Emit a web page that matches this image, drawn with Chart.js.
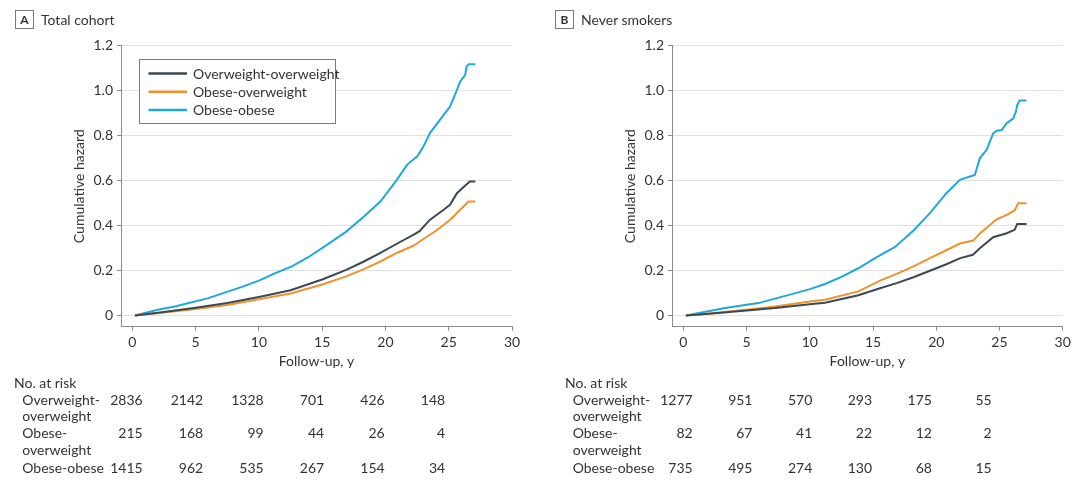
<!DOCTYPE html>
<html><head><meta charset="utf-8">
<script src="https://cdn.jsdelivr.net/npm/chart.js@4.4.1/dist/chart.umd.min.js"></script>
<style>
html,body{margin:0;padding:0;background:#fff;}
body{width:1080px;height:483px;position:relative;overflow:hidden;font-family:Lato,sans-serif;color:#333;}
.panel{position:absolute;top:0;width:540px;height:483px;}
.panel canvas{position:absolute;left:0;top:0;}
.t{position:absolute;font-size:14px;line-height:17px;white-space:nowrap;}
.box{position:absolute;width:17px;height:17px;border:1px solid #777;font-weight:bold;font-size:12px;text-align:center;line-height:17px;}
</style></head>
<body>
<div class="panel" id="pA"><canvas id="cA" width="540" height="483"></canvas></div>
<div class="panel" id="pB" style="left:540px"><canvas id="cB" width="540" height="483"></canvas></div>
<script>
// ---- data ----
const seriesNames = ['Overweight-overweight', 'Obese-overweight', 'Obese-obese'];
const xTicks = [0, 5, 10, 15, 20, 25, 30];
const yTicks = [0, 0.2, 0.4, 0.6, 0.8, 1.0, 1.2];

// Panel A: Total cohort
const tA_owow = [0.2, 2.5, 5, 7.5, 10, 12.5, 15, 16.9, 18.3, 19.6, 20.9, 22.2, 22.7, 23.5, 24.6, 25.1, 25.65, 26.2, 26.66, 27.1];
const hA_owow = [0, 0.015, 0.034, 0.055, 0.082, 0.112, 0.160, 0.203, 0.24, 0.278, 0.319, 0.359, 0.375, 0.425, 0.47, 0.492, 0.544, 0.573, 0.596, 0.596];
const tA_obow = [0.2, 2.5, 5, 7.5, 10, 12.5, 15, 16.9, 18.3, 19.6, 20.9, 22.2, 23.0, 24.1, 25.1, 25.9, 26.57, 27.1];
const hA_obow = [0, 0.013, 0.029, 0.047, 0.072, 0.098, 0.138, 0.174, 0.206, 0.24, 0.278, 0.31, 0.34, 0.381, 0.425, 0.47, 0.507, 0.507];
const tA_obob = [0.2, 2, 3.35, 6, 8.6, 10, 11.3, 12.6, 13.9, 15.2, 16.9, 18.3, 19.6, 20.9, 21.7, 22.5, 23, 23.5, 24.3, 25.1, 25.65, 25.9, 26.3, 26.4, 26.57, 27.1];
const hA_obob = [0, 0.025, 0.040, 0.077, 0.126, 0.155, 0.188, 0.218, 0.259, 0.307, 0.373, 0.44, 0.507, 0.603, 0.67, 0.707, 0.751, 0.81, 0.87, 0.929, 1.003, 1.04, 1.07, 1.107, 1.117, 1.117];

// Panel B: Never smokers
const tB_owow = [0.2, 2.5, 5, 7.25, 10, 11.2, 13.84, 15.55, 16.87, 18.2, 19.5, 20.8, 21.9, 22.9, 23.45, 24.5, 25.57, 26.2, 26.4, 27.14];
const hB_owow = [0, 0.01, 0.022, 0.033, 0.05, 0.057, 0.09, 0.121, 0.144, 0.17, 0.199, 0.228, 0.255, 0.27, 0.299, 0.348, 0.366, 0.381, 0.407, 0.407];
const tB_obow = [0.2, 2.5, 5, 7.25, 10, 11.2, 13.84, 15.55, 16.87, 18.2, 19.5, 20.8, 21.87, 22.93, 23.45, 24.5, 24.78, 25.57, 26.2, 26.35, 26.47, 27.14];
const hB_obow = [0, 0.011, 0.025, 0.04, 0.062, 0.07, 0.107, 0.155, 0.185, 0.218, 0.255, 0.29, 0.32, 0.333, 0.365, 0.415, 0.428, 0.447, 0.467, 0.484, 0.499, 0.499];
const tB_obob = [0.2, 3.3, 5.93, 8.57, 10, 11.2, 12.5, 13.84, 15.16, 16.74, 18.2, 19.5, 20.8, 21.87, 22.66, 23.05, 23.45, 23.98, 24.5, 24.78, 25.17, 25.57, 26.1, 26.3, 26.4, 26.6, 27.14];
const hB_obob = [0, 0.033, 0.055, 0.095, 0.117, 0.14, 0.172, 0.21, 0.255, 0.305, 0.378, 0.455, 0.544, 0.603, 0.618, 0.625, 0.70, 0.736, 0.81, 0.822, 0.825, 0.855, 0.877, 0.907, 0.936, 0.956, 0.956];

// Number at risk
const riskLabels = [['Overweight-', 'overweight'], ['Obese-', 'overweight'], ['Obese-obese']];
const riskA_owow = [2836, 2142, 1328, 701, 426, 148];
const riskA_obow = [215, 168, 99, 44, 26, 4];
const riskA_obob = [1415, 962, 535, 267, 154, 34];
const riskB_owow = [1277, 951, 570, 293, 175, 55];
const riskB_obow = [82, 67, 41, 22, 12, 2];
const riskB_obob = [735, 495, 274, 130, 68, 15];

// ---- styling ----
const colors = ['#3a4954', '#f0922e', '#1ea9dc'];
const txt = '#333333';
const axisCol = '#8c8c8c';
const gridCol = '#e0e0e0';
const font14 = {family: 'Lato, sans-serif', size: 14};

function pts(t, h) { return t.map((v, i) => ({x: v, y: h[i]})); }

const boxLegend = {
  id: 'boxLegend',
  afterDatasetsDraw(chart, args, opts) {
    if (!opts.show) return;
    const ctx = chart.ctx, a = chart.chartArea;
    const x0 = Math.round(a.left + 18) + 0.5, y0 = Math.round(a.top + 13.6) + 0.5;
    const w = 196, h = 64;
    ctx.save();
    ctx.fillStyle = '#fff';
    ctx.fillRect(x0, y0, w, h);
    ctx.strokeStyle = '#7a7a7a';
    ctx.lineWidth = 1;
    ctx.strokeRect(x0, y0, w, h);
    ctx.font = '14px Lato, sans-serif';
    ctx.textBaseline = 'middle';
    ctx.textAlign = 'left';
    chart.data.datasets.forEach((ds, i) => {
      const y = y0 + 14 + i * 18.2;
      ctx.strokeStyle = ds.borderColor;
      ctx.lineWidth = 2.5;
      ctx.beginPath();
      ctx.moveTo(x0 + 9, y);
      ctx.lineTo(x0 + 47.5, y);
      ctx.stroke();
      ctx.fillStyle = txt;
      ctx.fillText(ds.label, x0 + 53.5, y + 0.5);
    });
    ctx.restore();
  }
};

function makeChart(id, series, padLeft, padRight, showLegend) {
  return new Chart(document.getElementById(id), {
    type: 'line',
    data: {
      datasets: series.map((s, i) => ({
        label: seriesNames[i],
        data: s,
        borderColor: colors[i],
        backgroundColor: colors[i],
        borderWidth: 2,
        pointRadius: 0,
        tension: 0,
        fill: false
      }))
    },
    options: {
      responsive: false,
      animation: false,
      events: [],
      layout: {padding: {left: padLeft, right: padRight, top: 45.7, bottom: 113.6}},
      plugins: {legend: {display: false}, tooltip: {enabled: false}, boxLegend: {show: showLegend}},
      scales: {
        x: {
          type: 'linear', min: -0.9, max: 30,
          afterBuildTicks: s => { s.ticks = xTicks.map(v => ({value: v})); },
          afterFit: s => { s.height = 42.7; },
          ticks: {font: font14, color: txt, padding: 3, maxRotation: 0, autoSkip: false},
          grid: {drawOnChartArea: false, drawTicks: true, tickLength: 4, tickColor: axisCol},
          border: {color: axisCol, width: 1},
          title: {display: true, text: 'Follow-up, y', font: font14, color: txt, padding: 0}
        },
        y: {
          type: 'linear', min: -0.05, max: 1.2,
          afterBuildTicks: s => { s.ticks = yTicks.map(v => ({value: v})); },
          afterFit: s => { s.width = 50.4; },
          ticks: {font: font14, color: txt, padding: 4, callback: v => v === 0 ? '0' : v.toFixed(1)},
          grid: {color: gridCol, lineWidth: 1, drawTicks: true, tickLength: 4, tickColor: axisCol},
          border: {color: axisCol, width: 1},
          title: {display: true, text: 'Cumulative hazard', font: font14, color: txt, padding: 0}
        }
      }
    },
    plugins: [boxLegend]
  });
}

makeChart('cA', [pts(tA_owow, hA_owow), pts(tA_obow, hA_obow), pts(tA_obob, hA_obob)], 70.6, 28, true);
makeChart('cB', [pts(tB_owow, hB_owow), pts(tB_obow, hB_obow), pts(tB_obob, hB_obob)], 81.6, 17.3, false);

// ---- headers and at-risk tables (HTML text) ----
function addText(panel, text, left, cy, cls, extra) {
  const d = document.createElement('div');
  d.className = cls || 't';
  d.textContent = text;
  d.style.left = left + 'px';
  d.style.top = (cy - 8.5) + 'px';
  if (extra) Object.assign(d.style, extra);
  document.getElementById(panel).appendChild(d);
  return d;
}
function header(panel, letter, title) {
  const b = document.createElement('div');
  b.className = 'box'; b.textContent = letter;
  b.style.left = '15px'; b.style.top = '10px';
  document.getElementById(panel).appendChild(b);
  addText(panel, title, 41, 19.5);
}
header('pA', 'A', 'Total cohort');
header('pB', 'B', 'Never smokers');

function riskTable(panel, rows, noX, labX, firstRight, step) {
  addText(panel, 'No. at risk', noX, 382.7);
  const labelY = [[399.3, 415.8], [432.7, 449.3], [467.3]];
  const numY = [399.3, 432.7, 467.3];
  riskLabels.forEach((lines, r) => {
    lines.forEach((ln, k) => addText(panel, ln, labX, labelY[r][k]));
    rows[r].forEach((n, i) => {
      const right = firstRight + i * step;
      addText(panel, String(n), right - 60, numY[r], 't', {width: '60px', textAlign: 'right'});
    });
  });
}
riskTable('pA', [riskA_owow, riskA_obow, riskA_obob], 14, 22.3, 142.7, 60.5);
riskTable('pB', [riskB_owow, riskB_obow, riskB_obob], 25, 32.7, 152.7, 59.8);
</script>
</body></html>
